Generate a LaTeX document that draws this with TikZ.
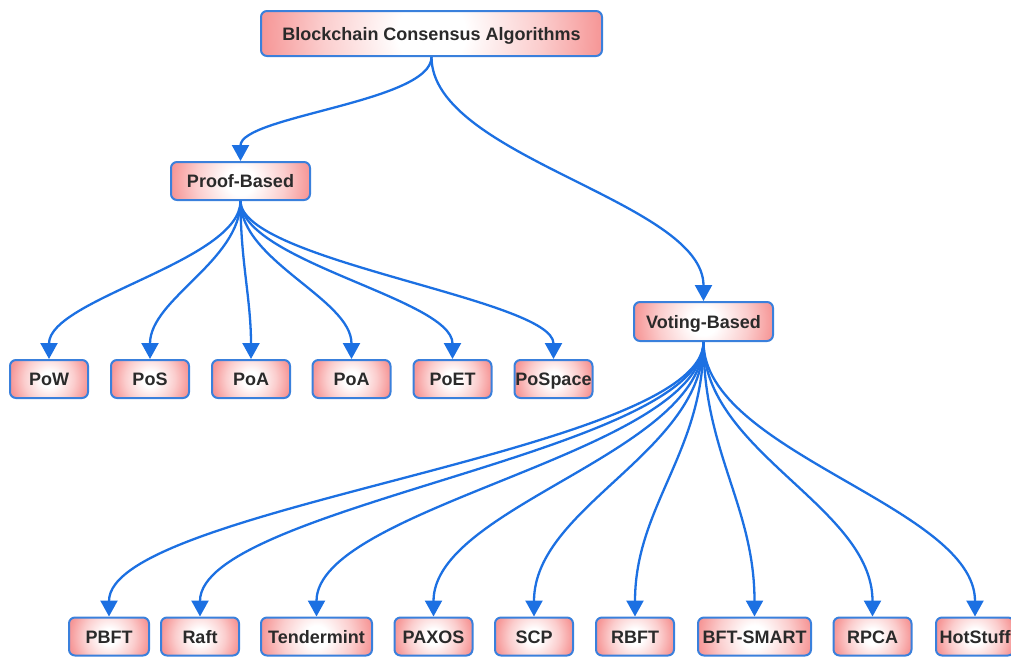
\documentclass[tikz,border=0pt]{standalone}
\usepackage{fontspec}
\setmainfont{Liberation Sans}
\usetikzlibrary{arrows.meta,calc}

\definecolor{linkblue}{RGB}{28,112,226}
\definecolor{boxblue}{RGB}{58,128,220}
\definecolor{pinkedge}{RGB}{246,150,150}
\definecolor{pinkmid}{RGB}{251,205,205}
\definecolor{labelgray}{RGB}{42,42,42}

% white centre fading out to pink at the radius of the circle
\pgfdeclareradialshading{glow}{\pgfpointorigin}{color(0bp)=(white); color(5bp)=(white); color(16bp)=(pinkmid); color(25bp)=(pinkedge); color(50bp)=(pinkedge)}

\tikzset{
  box/.style={draw=boxblue, line width=2pt, rounded corners=6pt, fill=pinkedge,
    inner sep=0pt, minimum height=38pt, minimum width=78pt, text=labelgray,
    text height=13pt, text depth=0pt,
    font=\fontsize{18}{20}\selectfont\bfseries,
    path picture={\shade[shading=glow]
      let \p1=($(path picture bounding box.east)-(path picture bounding box.center)$)
      in (path picture bounding box.center) circle (\x1);}},
  link/.style={draw=linkblue, line width=2.3pt, -{Triangle[width=17pt,length=16pt]}},
}

\begin{document}
\begin{tikzpicture}[x=1pt,y=1pt]
\useasboundingbox (0,0) rectangle (1011,-657);

% root and the two families
\node[box, minimum width=341pt, minimum height=45pt] (root) at (431.5,-33.5) {Blockchain Consensus Algorithms};
\node[box, minimum width=139pt] (proof) at (240.5,-181) {Proof-Based};
\node[box, minimum width=139pt, minimum height=39pt] (vote) at (703.5,-321.5) {Voting-Based};

% proof-based algorithms
\node[box] (pow)     at (49,-379)    {PoW};
\node[box] (pos)     at (150,-379)   {PoS};
\node[box] (poaone)  at (251,-379)   {PoA};
\node[box] (poatwo)  at (351.5,-379) {PoA};
\node[box] (poet)    at (452.5,-379) {PoET};
\node[box] (pospace) at (553.5,-379) {PoSpace};

% voting-based algorithms
\node[box, minimum width=80pt]  (pbft)       at (109,-636.5)   {PBFT};
\node[box]                      (raft)       at (200,-636.5)   {Raft};
\node[box, minimum width=111pt] (tendermint) at (316.5,-636.5) {Tendermint};
\node[box]                      (paxos)      at (433.5,-636.5) {PAXOS};
\node[box]                      (scp)        at (534,-636.5)   {SCP};
\node[box]                      (rbft)       at (635,-636.5)   {RBFT};
\node[box, minimum width=113pt] (bftsmart)   at (754.5,-636.5) {BFT-SMART};
\node[box]                      (rpca)       at (872.5,-636.5) {RPCA};
\node[box]                      (hotstuff)   at (975,-636.5)   {HotStuff};

% connectors
\draw[link] (root.south) .. controls +(0,-45) and +(0,45) .. (proof.north);
\draw[link] (root.south) .. controls +(0,-100) and +(0,100) .. (vote.north);

\foreach \n in {pow,pos,poaone,poatwo,poet,pospace}
  \draw[link] (proof.south) .. controls +(0,-60) and +(0,60) .. (\n.north);

\foreach \n in {pbft,raft,tendermint,paxos,scp,rbft,bftsmart,rpca,hotstuff}
  \draw[link] (vote.south) .. controls +(0,-110) and +(0,110) .. (\n.north);
\end{tikzpicture}
\end{document}
